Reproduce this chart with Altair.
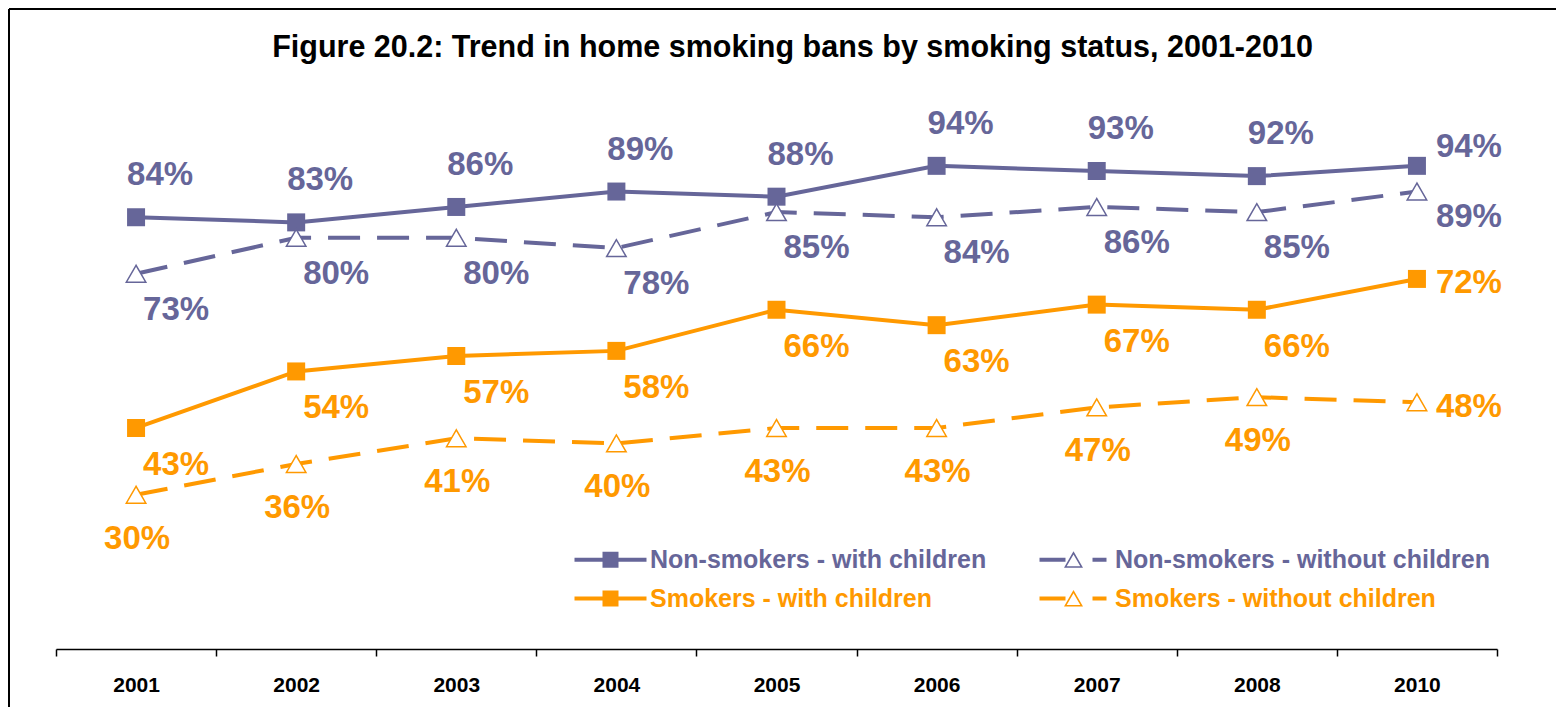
import altair as alt
import pandas as pd

# ---------------- data ----------------
years = ["2001", "2002", "2003", "2004", "2005", "2006", "2007", "2008", "2010"]
nonsmokers_with_children = [84, 83, 86, 89, 88, 94, 93, 92, 94]
nonsmokers_without_children = [73, 80, 80, 78, 85, 84, 86, 85, 89]
smokers_with_children = [43, 54, 57, 58, 66, 63, 67, 66, 72]
smokers_without_children = [30, 36, 41, 40, 43, 43, 47, 49, 48]
series_names = [
    "Non-smokers - with children",
    "Non-smokers - without children",
    "Smokers - with children",
    "Smokers - without children",
]
series_values = [
    nonsmokers_with_children,
    nonsmokers_without_children,
    smokers_with_children,
    smokers_without_children,
]
title_text = "Figure 20.2: Trend in home smoking bans by smoking status, 2001-2010"

rows = []
for name, vals in zip(series_names, series_values):
    for y, v in zip(years, vals):
        rows.append({"series": name, "year": y, "value": v})
df = pd.DataFrame(rows)

# ---------------- styles ----------------
PURPLE = "#666699"
ORANGE = "#FF9900"
FONT = "Liberation Sans"
LAST = years[-1]

styles = {
    series_names[0]: dict(color=PURPLE, dashed=False, marker="square", dx=24, dy=-42, ldx=52, ldy=-19),
    series_names[1]: dict(color=PURPLE, dashed=True, marker="triangle", dx=40, dy=36, ldx=52, ldy=25),
    series_names[2]: dict(color=ORANGE, dashed=False, marker="square", dx=40, dy=37, ldx=52, ldy=4),
    series_names[3]: dict(color=ORANGE, dashed=True, marker="triangle", dx=1, dy=44, ldx=52, ldy=5),
}

x_enc = alt.X(
    "year:N",
    sort=years,
    scale=alt.Scale(type="band", domain=years, paddingInner=0, paddingOuter=0),
    axis=alt.Axis(
        title=None,
        labelFont=FONT,
        labelFontSize=21,
        labelFontWeight="bold",
        labelColor="black",
        labelAngle=0,
        labelPadding=18,
        domainColor="black",
        domainWidth=1.5,
        tickColor="black",
        tickWidth=1.5,
        tickSize=7,
        tickBand="extent",
        grid=False,
    ),
)
y_enc = alt.Y("value:Q", scale=alt.Scale(domain=[0, 100]), axis=None)

base = alt.Chart(df)
layers = []

# lines
for name in series_names:
    st = styles[name]
    kw = dict(color=st["color"], strokeWidth=4, strokeCap="butt")
    if st["dashed"]:
        kw["strokeDash"] = [32, 17]
    layers.append(
        base.transform_filter(alt.datum.series == name)
        .mark_line(**kw)
        .encode(x=x_enc, y=y_enc)
    )

# markers
for name in series_names:
    st = styles[name]
    if st["marker"] == "square":
        mk = base.mark_point(shape="square", filled=True, size=324, color=st["color"], opacity=1)
    else:
        mk = base.mark_point(shape="triangle-up", fill="white", fillOpacity=1, stroke=st["color"],
                             strokeWidth=1.5, size=380, opacity=1)
    layers.append(mk.transform_filter(alt.datum.series == name).encode(x=x_enc, y=y_enc))

# value labels
for name in series_names:
    st = styles[name]
    tkw = dict(font=FONT, fontSize=33, fontWeight="bold", color=st["color"], align="center", baseline="middle")
    lab = base.transform_filter(alt.datum.series == name).transform_calculate(
        label="datum.value + '%'"
    )
    layers.append(
        lab.transform_filter(alt.datum.year != LAST)
        .mark_text(dx=st["dx"], dy=st["dy"], **tkw)
        .encode(x=x_enc, y=y_enc, text="label:N")
    )
    layers.append(
        lab.transform_filter(alt.datum.year == LAST)
        .mark_text(dx=st["ldx"], dy=st["ldy"], **tkw)
        .encode(x=x_enc, y=y_enc, text="label:N")
    )

# legend (custom symbols: line + marker)
sym_square = "M-1,-0.2H6.2V0.2H-1Z M1.8,-0.8H3.4V0.8H1.8Z"
sym_triangle = ("M-1,-0.2H1.6V0.2H-1Z "
                "M2.4,-0.85L3.35,0.8L1.45,0.8Z M2.4,-0.52L1.72,0.65L3.08,0.65Z "
                "M4.3,-0.2H5.7V0.2H4.3Z")
legend_layer = (
    base.transform_filter("false")
    .mark_point(filled=True, size=400, opacity=1)
    .encode(
        x=x_enc,
        y=y_enc,
        color=alt.Color(
            "series:N",
            scale=alt.Scale(domain=series_names, range=[PURPLE, PURPLE, ORANGE, ORANGE]),
            legend=alt.Legend(
                orient="none",
                legendX=516,
                legendY=412,
                columns=2,
                direction="horizontal",
                title=None,
                labelFont=FONT,
                labelFontSize=25,
                labelFontWeight="bold",
                labelColor={"expr": "indexof(datum.label, 'Non') == 0 ? '#666699' : '#FF9900'"},
                labelLimit=0,
                labelOffset=53,
                symbolSize=400,
                symbolStrokeWidth=0,
                symbolOpacity=1,
                columnPadding=50,
                rowPadding=13,
                padding=0,
            ),
        ),
        shape=alt.Shape(
            "series:N",
            scale=alt.Scale(domain=series_names,
                            range=[sym_square, sym_triangle, sym_square, sym_triangle]),
        ),
    )
)
layers.append(legend_layer)

# frame (left and top border)
frame_df = pd.DataFrame({"k": [0]})
frame_left = alt.Chart(frame_df).mark_rule(color="black", strokeWidth=2).encode(
    x=alt.value(-47), y=alt.value(-126), y2=alt.value(700)
)
frame_top = alt.Chart(frame_df).mark_rule(color="black", strokeWidth=2).encode(
    x=alt.value(-47), x2=alt.value(1600), y=alt.value(-126)
)
layers += [frame_left, frame_top]

chart = (
    alt.layer(*layers)
    .properties(
        width=1441,
        height=514,
        autosize=alt.AutoSizeParams(type="none"),
        padding={"left": 48, "top": 127, "right": 59, "bottom": 58},
        title=alt.TitleParams(
            title_text,
            font=FONT,
            fontSize=30.5,
            fontWeight="bold",
            color="black",
            anchor="middle",
            dx=16,
            offset=-79,
            baseline="alphabetic",
        ),
    )
    .configure(background="white")
    .configure_view(stroke=None)
)

chart.save("out.html", embed_options={"renderer": "svg", "actions": False})
